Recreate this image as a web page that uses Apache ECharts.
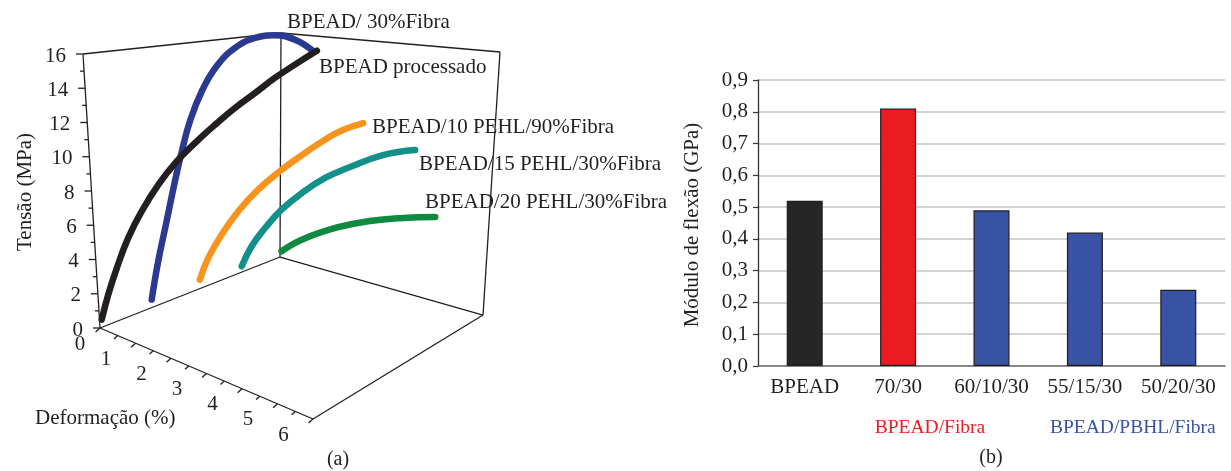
<!DOCTYPE html>
<html>
<head>
<meta charset="utf-8">
<script src="https://cdn.jsdelivr.net/npm/echarts@6/dist/echarts.min.js"></script>
<style>
  html, body { margin: 0; padding: 0; background: #fff; }
  #chart { width: 1231px; height: 471px; }
</style>
</head>
<body>
<div id="chart"></div>
<script>
// ---------- (a) tensile curves: strain (%) vs stress (MPa), one plane per material ----------
const tensileNames = ['BPEAD processado', 'BPEAD/ 30%Fibra', 'BPEAD/10 PEHL/90%Fibra', 'BPEAD/15 PEHL/30%Fibra', 'BPEAD/20 PEHL/30%Fibra'];
const tensileDepth = [0, 1, 2, 3, 4];

const strainProcessado = [0.06, 0.27, 0.54, 0.89, 1.29, 1.77, 2.29, 2.80, 3.36, 3.91, 4.46, 5.01, 5.56, 6.16];
const stressProcessado = [0.49, 1.94, 3.50, 5.26, 6.82, 8.37, 9.73, 10.80, 11.87, 12.85, 13.72, 14.60, 15.38, 16.19];

const strainFibra30 = [0.19, 0.41, 0.68, 0.95, 1.17, 1.42, 1.77, 2.19, 2.70, 3.24, 3.77, 4.29, 4.76];
const stressFibra30 = [0.65, 3.00, 5.44, 7.89, 9.73, 11.56, 13.40, 14.93, 16.05, 16.66, 16.82, 16.55, 15.84];

const strainPehl10 = [0.27, 0.51, 0.88, 1.34, 1.88, 2.52, 3.14, 3.68, 4.16, 4.70];
const stressPehl10 = [0.82, 2.22, 3.71, 5.22, 6.61, 7.89, 8.96, 9.82, 10.44, 10.89];

const strainPehl15 = [0.18, 0.45, 0.81, 1.25, 1.79, 2.41, 3.07, 3.94, 4.79];
const stressPehl15 = [0.57, 1.93, 3.16, 4.40, 5.53, 6.55, 7.29, 8.10, 8.44];

const strainPehl20 = [0.04, 0.57, 1.50, 2.36, 3.23, 4.08];
const stressPehl20 = [0.41, 1.24, 2.11, 2.57, 2.79, 2.86];

const stressTicks = [0, 2, 4, 6, 8, 10, 12, 14, 16];
const strainTicks = [0, 1, 2, 3, 4, 5, 6];

// ---------- (b) flexural modulus ----------
const flexCategories = ['BPEAD', '70/30', '60/10/30', '55/15/30', '50/20/30'];
const flexModulus = [0.52, 0.81, 0.49, 0.42, 0.24];
const flexTicks = { min: 0, max: 0.9, step: 0.1 };

// ---------- styling ----------
const INK = '#231f20';
const FONT = '"Liberation Serif", "Times New Roman", serif';
const curveColors = ['#231f20', '#2b3990', '#f7941d', '#13908a', '#0f8a40'];
const barColors = ['#262626', '#ed1c24', '#3953a4', '#3953a4', '#3953a4'];

// Box corners of the 3-D frame (pixel layout of panel a)
const BOX = {
  O: [100, 328],    // origin, front-left-bottom
  OT: [83, 54],     // front-left-top (stress 16)
  FR: [313, 419],   // front-right-bottom (strain 6)
  BL: [280, 257],   // back-left-bottom
  BLT: [281, 33],   // back-left-top
  BR: [483, 315],   // back-right-bottom
  BRT: [500, 52]    // back-right-top
};
const STRESS_MAX = 16, STRAIN_MAX = 6, DEPTH_MAX = 4, STRAIN_PX = 38;

const lerp = (a, b, f) => a + (b - a) * f;
const lerp2 = (p, q, f) => [lerp(p[0], q[0], f), lerp(p[1], q[1], f)];

// a point (strain, stress) on the curve plane at a given depth
function planePoint(s, t, d) {
  const f = d / DEPTH_MAX;
  const a = lerp2(BOX.O, BOX.BL, f);
  const vx = lerp(BOX.OT[0] - BOX.O[0], BOX.BLT[0] - BOX.BL[0], f) / STRESS_MAX;
  const vy = lerp(BOX.OT[1] - BOX.O[1], BOX.BLT[1] - BOX.BL[1], f) / STRESS_MAX;
  return [a[0] + s * STRAIN_PX + t * vx, a[1] + t * vy];
}
// a point on the front strain axis
const strainAxisPoint = s => lerp2(BOX.O, BOX.FR, s / STRAIN_MAX);

// frame edges and ticks as segments
const segments = [];
const seg = (p, q) => segments.push([p[0], p[1], q[0], q[1]]);
seg(BOX.O, BOX.OT); seg(BOX.OT, BOX.BLT); seg(BOX.BLT, BOX.BL); seg(BOX.BLT, BOX.BRT);
seg(BOX.BRT, BOX.BR); seg(BOX.O, BOX.BL); seg(BOX.BL, BOX.BR); seg(BOX.BR, BOX.FR); seg(BOX.FR, BOX.O);
for (let v = 0; v <= STRESS_MAX; v++) {
  const p = planePoint(0, v, 0);
  const len = v % 2 === 0 ? 7 : 4;
  seg(p, [p[0] - len, p[1]]);
}
for (let k = 0; k <= STRAIN_MAX * 2; k++) {
  const p = strainAxisPoint(k / 2);
  const len = k % 2 === 0 ? 6 : 5;
  seg(p, [p[0] - 0.74 * len, p[1] + 0.67 * len]);
}

// tick labels of panel a
const tickLabels = [];
stressTicks.forEach(v => {
  const p = planePoint(0, v, 0);
  tickLabels.push({ value: [p[0] - 17, p[1] + 2], text: String(v), align: 'right' });
});
strainTicks.forEach(v => {
  const p = strainAxisPoint(v);
  const dx = v === 0 ? -20 : -29.5;
  tickLabels.push({ value: [p[0] + dx, p[1] + 16], text: String(v), align: 'center' });
});

const tensileStrain = [strainProcessado, strainFibra30, strainPehl10, strainPehl15, strainPehl20];
const tensileStress = [stressProcessado, stressFibra30, stressPehl10, stressPehl15, stressPehl20];

// back planes first so the front curve sits on top
const curveSeries = [];
for (let i = tensileNames.length - 1; i >= 0; i--) {
  const pts = tensileStrain[i].map((s, j) => planePoint(s, tensileStress[i][j], tensileDepth[i]));
  curveSeries.push({
    name: tensileNames[i],
    type: 'line',
    xAxisIndex: 0, yAxisIndex: 0,
    data: pts,
    smooth: 0.45,
    symbol: 'none',
    showSymbol: false,
    clip: false,
    silent: true,
    z: 5,
    lineStyle: { color: curveColors[i], width: 6.5, cap: 'round', join: 'round' }
  });
}

const textStyle = (text, size, color, align, vAlign) => ({
  text, font: size + 'px ' + FONT, fill: color,
  align, textAlign: align, verticalAlign: vAlign || 'middle', textVerticalAlign: vAlign || 'middle'
});

const chart = echarts.init(document.getElementById('chart'), null, { renderer: 'canvas' });
chart.setOption({
  animation: false,
  backgroundColor: '#ffffff',
  grid: [
    { left: 0, top: 0, width: 620, height: 471 },
    { left: 758, top: 80, width: 467, height: 286 }
  ],
  xAxis: [
    { gridIndex: 0, type: 'value', min: 0, max: 620, show: false },
    {
      gridIndex: 1, type: 'category', data: flexCategories,
      axisLine: { lineStyle: { color: '#6f6f6f', width: 1.6 } },
      axisTick: { show: false },
      axisLabel: { interval: 0, fontFamily: FONT, fontSize: 21, color: INK, margin: 11 }
    }
  ],
  yAxis: [
    { gridIndex: 0, type: 'value', min: 0, max: 471, inverse: true, show: false },
    {
      gridIndex: 1, type: 'value', min: flexTicks.min, max: flexTicks.max, interval: flexTicks.step,
      axisLine: { show: true, lineStyle: { color: '#333333', width: 1.3 } },
      axisTick: { show: true, length: 5, lineStyle: { color: '#333333', width: 1.2 } },
      axisLabel: {
        fontFamily: FONT, fontSize: 21, color: INK, margin: 10,
        formatter: v => v.toFixed(1).replace('.', ',')
      },
      splitLine: { lineStyle: { color: '#c6c6c6', width: 1.5 } }
    }
  ],
  series: [
    {
      type: 'custom', xAxisIndex: 0, yAxisIndex: 0, silent: true, clip: false, z: 2,
      data: segments,
      encode: { x: [0, 2], y: [1, 3] },
      renderItem: (params, api) => {
        const a = api.coord([api.value(0), api.value(1)]);
        const b = api.coord([api.value(2), api.value(3)]);
        return {
          type: 'line',
          shape: { x1: a[0], y1: a[1], x2: b[0], y2: b[1] },
          style: { stroke: INK, lineWidth: 1.3 }
        };
      }
    },
    {
      type: 'custom', xAxisIndex: 0, yAxisIndex: 0, silent: true, clip: false, z: 2,
      data: tickLabels.map(d => d.value),
      encode: { x: 0, y: 1 },
      renderItem: (params, api) => {
        const p = api.coord([api.value(0), api.value(1)]);
        const it = tickLabels[params.dataIndex];
        return { type: 'text', x: p[0], y: p[1], style: textStyle(it.text, 21, INK, it.align) };
      }
    },
    ...curveSeries,
    {
      type: 'bar', xAxisIndex: 1, yAxisIndex: 1, barWidth: 36, silent: true,
      data: flexModulus.map((v, i) => ({ value: v, itemStyle: { color: barColors[i] } })),
      itemStyle: { borderColor: '#1e1e1e', borderWidth: 1.2 }
    }
  ],
  graphic: [
    { type: 'text', x: 25, y: 192, rotation: Math.PI / 2, style: textStyle('Tensão (MPa)', 21, INK, 'center') },
    { type: 'text', x: 35, y: 418, style: textStyle('Deformação (%)', 21, INK, 'left') },
    { type: 'text', x: 338, y: 460, style: textStyle('(a)', 20, INK, 'center') },
    { type: 'text', x: 287, y: 22, style: textStyle(tensileNames[1], 21, INK, 'left') },
    { type: 'text', x: 319, y: 67, style: textStyle(tensileNames[0], 21, INK, 'left') },
    { type: 'text', x: 372, y: 127, style: textStyle(tensileNames[2], 21, INK, 'left') },
    { type: 'text', x: 419, y: 164, style: textStyle(tensileNames[3], 21, INK, 'left') },
    { type: 'text', x: 425, y: 202, style: textStyle(tensileNames[4], 21, INK, 'left') },
    { type: 'text', x: 692, y: 225, rotation: Math.PI / 2, style: textStyle('Módulo de flexão (GPa)', 21, INK, 'center') },
    { type: 'text', x: 930, y: 428, style: textStyle('BPEAD/Fibra', 19.5, '#ed1c24', 'center') },
    { type: 'text', x: 1050, y: 428, style: textStyle('BPEAD/PBHL/Fibra', 19.5, '#3953a4', 'left') },
    { type: 'text', x: 991, y: 458, style: textStyle('(b)', 20, INK, 'center') }
  ]
});
</script>
</body>
</html>
